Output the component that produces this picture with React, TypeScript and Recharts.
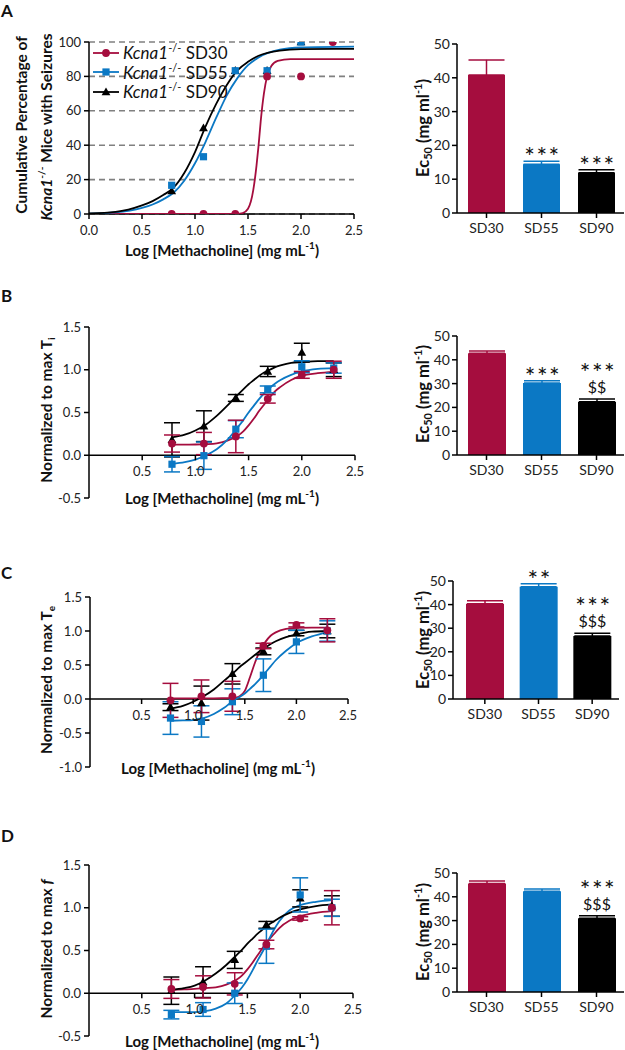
import React from 'react';
import {
  ComposedChart, BarChart, Bar, Line, Scatter, XAxis, YAxis, CartesianGrid,
  ErrorBar, ReferenceLine, Legend, LabelList,
} from 'recharts';

const CRIMSON = '#A50D3E';
const BLUE = '#0B78C4';
const BLACK = '#000000';
const COLORS = [CRIMSON, BLUE, BLACK];
const FONT = 'Lato, "Open Sans", sans-serif';

const groups = ['SD30', 'SD55', 'SD90'];
const doses = [0.78, 1.08, 1.38, 1.68, 2.0, 2.3];

// A - cumulative % of Kcna1-/- mice with seizures
const seizSD30 = [0, 0, 0, 80, 80, 100];
const seizSD55 = [16.7, 33.3, 83.3, 83.3, 100, null];
const seizSD90 = [13.3, 50, 83.3, 83.3, 100, null];
const fitXA = [0, 0.25, 0.5, 0.6, 0.7, 0.8, 0.9, 1.0, 1.1, 1.2, 1.3, 1.4, 1.5, 1.6, 1.8, 2.0, 2.5];
const fitA55 = [0.2, 0.9, 3.5, 5.5, 8.5, 12.5, 19.5, 29.5, 42, 56, 69, 79, 86.5, 91, 95.5, 96.8, 97.3];
const fitA90 = [0.3, 1.2, 5, 7.5, 11, 15.5, 24, 36, 51, 64, 75, 83.5, 88.5, 92, 95, 95.8, 96];
const fitXA30 = [0, 1.4, 1.45, 1.5, 1.55, 1.58, 1.6, 1.62, 1.65, 1.68, 1.72, 1.78, 1.9, 2.5];
const fitA30 = [0, 0.1, 0.5, 3, 14, 28, 40, 54, 70, 80, 86, 89, 90, 90];

// B-D fitted curves share one x grid
const fitX = [0.78, 0.9, 1.0, 1.1, 1.2, 1.3, 1.4, 1.45, 1.5, 1.55, 1.6, 1.65, 1.7, 1.75, 1.8, 1.9, 2.0, 2.15, 2.3];

// B - Ti
const tiSD30 = [0.137, 0.137, 0.22, 0.66, 0.94, 1.0];
const tiErr30 = [0.1, 0.13, 0.19, 0.05, 0.04, 0.1];
const tiSD55 = [-0.105, -0.005, 0.305, 0.77, 1.035, 1.02];
const tiErr55 = [0.09, 0.16, 0.1, 0.04, 0.07, 0.06];
const tiSD90 = [0.18, 0.34, 0.67, 0.98, 1.2, 1.0];
const tiErr90 = [0.2, 0.18, 0.04, 0.06, 0.11, 0.08];
const fitB30 = [0.125, 0.125, 0.126, 0.13, 0.14, 0.17, 0.23, 0.28, 0.35, 0.43, 0.52, 0.6, 0.68, 0.75, 0.8, 0.88, 0.93, 0.96, 0.975];
const fitB55 = [-0.1, -0.08, -0.05, 0.0, 0.07, 0.18, 0.33, 0.41, 0.5, 0.58, 0.66, 0.73, 0.79, 0.84, 0.88, 0.94, 0.98, 1.01, 1.02];
const fitB90 = [0.21, 0.24, 0.29, 0.36, 0.46, 0.58, 0.71, 0.77, 0.83, 0.88, 0.93, 0.97, 1.0, 1.03, 1.05, 1.08, 1.09, 1.1, 1.1];

// C - Te
const teSD30 = [-0.02, 0.04, 0.04, 0.78, 1.09, 1.01];
const teErr30 = [0.25, 0.24, 0.22, 0.04, 0.03, 0.17];
const teSD55 = [-0.28, -0.33, -0.04, 0.35, 0.84, 1.0];
const teErr55 = [0.24, 0.23, 0.19, 0.24, 0.17, 0.15];
const teSD90 = [-0.12, -0.06, 0.37, 0.7, 0.97, 1.0];
const teErr90 = [0.05, 0.25, 0.15, 0.05, 0.04, 0.1];
const fitC30 = [0.01, 0.01, 0.01, 0.01, 0.01, 0.012, 0.015, 0.04, 0.12, 0.32, 0.54, 0.72, 0.84, 0.93, 0.98, 1.03, 1.045, 1.05, 1.05];
const fitC55 = [-0.32, -0.315, -0.31, -0.28, -0.22, -0.13, -0.01, 0.03, 0.08, 0.15, 0.22, 0.3, 0.39, 0.48, 0.57, 0.71, 0.82, 0.92, 0.98];
const fitC90 = [-0.14, -0.1, -0.04, 0.04, 0.14, 0.27, 0.4, 0.47, 0.53, 0.59, 0.65, 0.71, 0.76, 0.81, 0.85, 0.91, 0.95, 0.99, 1.0];

// D - f
const fSD30 = [0.05, 0.074, 0.11, 0.57, 0.875, 1.0];
const fErr30 = [0.11, 0.13, 0.13, 0.05, 0.02, 0.2];
const fSD55 = [-0.25, -0.19, 0.0, 0.55, 1.15, 1.0];
const fErr55 = [0.05, 0.08, 0.12, 0.2, 0.2, 0.1];
const fSD90 = [0.03, 0.13, 0.39, 0.8, 1.11, 1.02];
const fErr90 = [0.16, 0.18, 0.1, 0.04, 0.1, 0.12];
const fitD30 = [0.04, 0.045, 0.05, 0.06, 0.07, 0.1, 0.16, 0.21, 0.28, 0.36, 0.45, 0.54, 0.62, 0.69, 0.76, 0.85, 0.9, 0.94, 0.96];
const fitD55 = [-0.22, -0.22, -0.22, -0.21, -0.18, -0.12, 0.0, 0.07, 0.16, 0.27, 0.39, 0.5, 0.62, 0.74, 0.84, 0.97, 1.03, 1.07, 1.09];
const fitD90 = [0.04, 0.06, 0.09, 0.15, 0.23, 0.33, 0.45, 0.51, 0.58, 0.64, 0.7, 0.75, 0.8, 0.84, 0.88, 0.94, 0.98, 1.02, 1.04];

// EC50 bars (mg/ml), mean and SEM
const ecA = [40.8, 14.4, 11.9];
const ecErrA = [4.5, 0.9, 0.9];
const ecB = [42.7, 30.3, 22.4];
const ecErrB = [1.0, 0.9, 1.1];
const ecC = [40.4, 47.6, 26.7];
const ecErrC = [1.2, 1.2, 1.2];
const ecD = [45.6, 42.3, 31.0];
const ecErrD = [1.0, 1.0, 1.0];
const starsA = ['', '***', '***'];
const dollarsA = ['', '', ''];
const starsB = ['', '***', '***'];
const dollarsB = ['', '', '$$'];
const starsC = ['', '**', '***'];
const dollarsC = ['', '', '$$$'];
const starsD = ['', '', '***'];
const dollarsD = ['', '', '$$$'];

const kinds = ['circle', 'square', 'triangle'];

const toPts = (xs: number[], ys: (number | null)[], es?: number[]) =>
  xs
    .map((x, i) => ({ x, y: ys[i], e: es ? es[i] : undefined }))
    .filter((d) => d.y != null);

const Marker = ({ cx, cy, kind, color }: any) => {
  if (cx == null || cy == null) return null;
  if (kind === 'square')
    return <rect x={cx - 3.6} y={cy - 3.6} width={7.2} height={7.2} fill={color} />;
  if (kind === 'triangle')
    return <polygon points={`${cx},${cy - 4.6} ${cx + 4.4},${cy + 3.2} ${cx - 4.4},${cy + 3.2}`} fill={color} />;
  return <circle cx={cx} cy={cy} r={3.9} fill={color} />;
};

const zeroTick = (zero: number) => (p: any) => (
  <g transform={`translate(${p.x},${zero})`}>
    <line y1={0} y2={5} stroke="#000" strokeWidth={1.5} />
    <text y={21} textAnchor="middle" fontSize={13} fill="#222" fontFamily={FONT}>
      {Number(p.payload.value).toFixed(1)}
    </text>
  </g>
);

const SeizureLegend = () => (
  <div style={{ fontFamily: FONT, fontSize: 17, color: '#111' }}>
    {groups.map((g, i) => (
      <div key={g} style={{ display: 'flex', alignItems: 'center', height: 19.5, fontSize: 17 }}>
        <svg width={27} height={12}>
          <line x1={0} x2={26} y1={6} y2={6} stroke={COLORS[i]} strokeWidth={1.8} />
          <Marker cx={13} cy={6} kind={kinds[i]} color={COLORS[i]} />
        </svg>
        <span style={{ marginLeft: 3, fontSize: 17, whiteSpace: 'nowrap' }}>
          <i>Kcna1</i>
          <span style={{ fontSize: 11, verticalAlign: 7, lineHeight: 0 }}>-/-</span> {g}
        </span>
      </div>
    ))}
  </div>
);

type Box = { left: number; top: number; right: number; bottom: number };

function LinePanel({ box, yDomain, yTicks, xTicks, grid, curves, pts, legend, fmt }: any) {
  const L0 = 50, W = 320, YW = 35, XH = 30, PADT = 12;
  const T0 = box.top - PADT;
  const plotH = box.bottom - box.top;
  const H = plotH + PADT + 40;
  const margin = { top: PADT, left: box.left - L0 - YW, right: L0 + W - box.right, bottom: 40 - XH };
  const zero = PADT + (plotH * yDomain[1]) / (yDomain[1] - yDomain[0]);
  return (
    <div style={{ position: 'absolute', left: L0, top: T0 }}>
      <ComposedChart width={W} height={H} margin={margin}>
        {grid && (
          <CartesianGrid vertical={false} stroke="#808080" strokeDasharray="6 4" strokeWidth={1.6} />
        )}
        <XAxis
          type="number"
          dataKey="x"
          domain={[0, 2.5]}
          ticks={xTicks}
          allowDataOverflow
          axisLine={false}
          tickLine={false}
          height={XH}
          tick={zeroTick(zero)}
        />
        <YAxis
          type="number"
          dataKey="y"
          domain={yDomain}
          ticks={yTicks}
          allowDataOverflow
          width={YW}
          axisLine={{ stroke: '#000', strokeWidth: 1.5 }}
          tickLine={{ stroke: '#000', strokeWidth: 1.5 }}
          tickSize={5}
          tickMargin={3}
          tickFormatter={fmt}
          tick={{ fontSize: 13, fill: '#222', fontFamily: FONT }}
        />
        <ReferenceLine y={0} stroke="#000" strokeWidth={1.5} />
        {curves.map((c: any, i: number) => (
          <Line
            key={'c' + i}
            data={toPts(c.xs, c.ys)}
            dataKey="y"
            type="monotone"
            stroke={c.color}
            strokeWidth={1.8}
            dot={false}
            activeDot={false}
            legendType="none"
            isAnimationActive={false}
          />
        ))}
        {pts.map((s: any, i: number) => (
          <Scatter
            key={'p' + i}
            data={toPts(doses, s.ys, s.errs)}
            shape={(p: any) => <Marker cx={p.cx} cy={p.cy} kind={s.kind} color={s.color} />}
            isAnimationActive={false}
          >
            {s.errs && (
              <ErrorBar dataKey="e" direction="y" width={8} stroke={s.color} strokeWidth={1.5} />
            )}
          </Scatter>
        ))}
        {legend && (
          <Legend
            layout="vertical"
            align="center"
            verticalAlign="middle"
            wrapperStyle={{ left: 43, top: 13, width: 190 }}
            content={() => <SeizureLegend />}
          />
        )}
      </ComposedChart>
    </div>
  );
}

function BarPanel({ box, vals, errs, stars, dollars, barSize, padLeft }: any) {
  const L0 = 360, W = 265, YW = 40, XH = 30, PADT = 50;
  const T0 = box.top - PADT;
  const plotH = box.bottom - box.top;
  const H = plotH + PADT + 40;
  const margin = { top: PADT, left: box.left - L0 - YW, right: L0 + W - box.right, bottom: 40 - XH };
  const ppu = plotH / 50;
  const rows = groups.map((g, i) => {
    const r: any = { name: g };
    r['v' + i] = vals[i];
    r['e' + i] = [0, errs[i]];
    return r;
  });
  const note = (i: number) => (p: any) => {
    if (p.value == null || p.value === '') return null;
    const vb = p.viewBox || {};
    const x = p.x ?? vb.x;
    const y = p.y ?? vb.y;
    const w = p.width ?? vb.width;
    if (x == null || y == null || w == null) return null;
    const cx = x + w / 2;
    const errTop = y - errs[i] * ppu;
    const starC = dollars[i] ? errTop - 31 : errTop - 9;
    return (
      <g key={'n' + i} fontFamily={FONT} fill="#111">
        {dollars[i] && (
          <text x={cx} y={errTop - 12 + 6} textAnchor="middle" fontSize={16}>
            {dollars[i]}
          </text>
        )}
        {stars[i] && (
          <text x={cx + 1} y={starC + 14} textAnchor="middle" fontSize={25} letterSpacing={1.5}>
            {stars[i]}
          </text>
        )}
      </g>
    );
  };
  return (
    <div style={{ position: 'absolute', left: L0, top: T0 }}>
      <BarChart width={W} height={H} data={rows} margin={margin} barCategoryGap={0}>
        <XAxis
          dataKey="name"
          type="category"
          padding={{ left: padLeft, right: 0 }}
          height={XH}
          axisLine={{ stroke: '#000', strokeWidth: 1.5 }}
          tickLine={{ stroke: '#000', strokeWidth: 1.5 }}
          tickSize={5}
          tickMargin={5}
          tick={{ fontSize: 14, fill: '#222', fontFamily: FONT }}
        />
        <YAxis
          type="number"
          domain={[0, 50]}
          ticks={[0, 10, 20, 30, 40, 50]}
          width={YW}
          axisLine={{ stroke: '#000', strokeWidth: 1.5 }}
          tickLine={{ stroke: '#000', strokeWidth: 1.5 }}
          tickSize={5}
          tickMargin={2}
          tick={{ fontSize: 14, fill: '#222', fontFamily: FONT }}
        />
        {groups.map((g, i) => (
          <Bar
            key={g}
            dataKey={'v' + i}
            stackId="s"
            fill={COLORS[i]}
            barSize={barSize}
            isAnimationActive={false}
          >
            <ErrorBar dataKey={'e' + i} direction="y" width={18} stroke={COLORS[i]} strokeWidth={1.5} />
            <LabelList dataKey={'v' + i} content={note(i)} />
          </Bar>
        ))}
      </BarChart>
    </div>
  );
}

const VTitle = ({ cx, cy, children, size = 15.5 }: any) => (
  <div
    style={{
      position: 'absolute', left: cx, top: cy,
      transform: 'translate(-50%, -50%) rotate(-90deg)',
      whiteSpace: 'nowrap', fontWeight: 700, fontSize: size, lineHeight: 1, color: '#111',
    }}
  >
    {children}
  </div>
);

const HTitle = ({ cx, cy, children, size = 15 }: any) => (
  <div
    style={{
      position: 'absolute', left: cx, top: cy, transform: 'translate(-50%, -50%)',
      whiteSpace: 'nowrap', fontWeight: 700, fontSize: size, lineHeight: 1, color: '#111',
    }}
  >
    {children}
  </div>
);

const Letter = ({ y, t }: any) => (
  <div style={{ position: 'absolute', left: 1, top: Math.max(0, y - 10), fontWeight: 700, fontSize: 17 }}>{t}</div>
);

const sup = { fontSize: 10, verticalAlign: 7, lineHeight: 0 } as const;
const sub = { fontSize: 10, verticalAlign: -3, lineHeight: 0 } as const;

const XTitle = ({ cx, cy }: any) => (
  <HTitle cx={cx} cy={cy}>
    Log [Methacholine] (mg mL<span style={sup}>-1</span>)
  </HTitle>
);
const EcTitle = ({ cy }: any) => (
  <VTitle cx={423} cy={cy} size={16.5}>
    Ec<span style={{ ...sub, fontSize: 11 }}>50</span> (mg ml<span style={{ ...sup, fontSize: 11 }}>-1</span>)
  </VTitle>
);

const fmt1 = (v: number) => v.toFixed(1);
const xTicksFull = [0, 0.5, 1, 1.5, 2, 2.5];
const xTicks = [0.5, 1, 1.5, 2, 2.5];

const sets = (d30: any, d55: any, d90: any, e30?: any, e55?: any, e90?: any) => [
  { ys: d90, errs: e90, color: BLACK, kind: 'triangle' },
  { ys: d55, errs: e55, color: BLUE, kind: 'square' },
  { ys: d30, errs: e30, color: CRIMSON, kind: 'circle' },
];

export default function App() {
  const boxA: Box = { left: 89, top: 42, right: 354, bottom: 214 };
  const boxB: Box = { left: 89, top: 327, right: 355, bottom: 498 };
  const boxC: Box = { left: 90, top: 597, right: 348, bottom: 767 };
  const boxD: Box = { left: 89, top: 865, right: 353, bottom: 1036 };
  return (
    <div
      style={{
        position: 'absolute', left: 0, top: 0, width: 625, height: 1050,
        background: '#fff', fontFamily: FONT, color: '#111', overflow: 'hidden',
      }}
    >
      <Letter y={8} t="A" />
      <Letter y={295} t="B" />
      <Letter y={572} t="C" />
      <Letter y={835} t="D" />

      <LinePanel
        box={boxA}
        yDomain={[0, 100]}
        yTicks={[0, 20, 40, 60, 80, 100]}
        xTicks={xTicksFull}
        fmt={(v: number) => String(v)}
        grid
        legend
        curves={[
          { xs: fitXA30, ys: fitA30, color: CRIMSON },
          { xs: fitXA, ys: fitA55, color: BLUE },
          { xs: fitXA, ys: fitA90, color: BLACK },
        ]}
        pts={sets(seizSD30, seizSD55, seizSD90)}
      />
      <LinePanel
        box={boxB}
        yDomain={[-0.5, 1.5]}
        yTicks={[-0.5, 0, 0.5, 1, 1.5]}
        xTicks={xTicks}
        fmt={fmt1}
        curves={[
          { xs: fitX, ys: fitB30, color: CRIMSON },
          { xs: fitX, ys: fitB55, color: BLUE },
          { xs: fitX, ys: fitB90, color: BLACK },
        ]}
        pts={sets(tiSD30, tiSD55, tiSD90, tiErr30, tiErr55, tiErr90)}
      />
      <LinePanel
        box={boxC}
        yDomain={[-1, 1.5]}
        yTicks={[-1, -0.5, 0, 0.5, 1, 1.5]}
        xTicks={xTicks}
        fmt={fmt1}
        curves={[
          { xs: fitX, ys: fitC30, color: CRIMSON },
          { xs: fitX, ys: fitC55, color: BLUE },
          { xs: fitX, ys: fitC90, color: BLACK },
        ]}
        pts={sets(teSD30, teSD55, teSD90, teErr30, teErr55, teErr90)}
      />
      <LinePanel
        box={boxD}
        yDomain={[-0.5, 1.5]}
        yTicks={[-0.5, 0, 0.5, 1, 1.5]}
        xTicks={xTicks}
        fmt={fmt1}
        curves={[
          { xs: fitX, ys: fitD30, color: CRIMSON },
          { xs: fitX, ys: fitD55, color: BLUE },
          { xs: fitX, ys: fitD90, color: BLACK },
        ]}
        pts={sets(fSD30, fSD55, fSD90, fErr30, fErr55, fErr90)}
      />

      <BarPanel box={{ left: 457, top: 44, right: 624, bottom: 213 }} vals={ecA} errs={ecErrA} stars={starsA} dollars={dollarsA} barSize={37} padLeft={2} />
      <BarPanel box={{ left: 457, top: 336, right: 624, bottom: 455 }} vals={ecB} errs={ecErrB} stars={starsB} dollars={dollarsB} barSize={38} padLeft={2} />
      <BarPanel box={{ left: 453, top: 581, right: 619, bottom: 699 }} vals={ecC} errs={ecErrC} stars={starsC} dollars={dollarsC} barSize={38} padLeft={5} />
      <BarPanel box={{ left: 457, top: 873, right: 624, bottom: 992 }} vals={ecD} errs={ecErrD} stars={starsD} dollars={dollarsD} barSize={38} padLeft={2} />

      <VTitle cx={22} cy={125}>Cumulative Percentage of</VTitle>
      <VTitle cx={47} cy={127}>
        <i>Kcna1</i>
        <span style={sup}>-/-</span> Mice with Seizures
      </VTitle>
      <VTitle cx={47} cy={410}>
        Normalized to max T<span style={sub}>i</span>
      </VTitle>
      <VTitle cx={47} cy={680}>
        Normalized to max T<span style={sub}>e</span>
      </VTitle>
      <VTitle cx={47} cy={949}>
        Normalized to max <i>f</i>
      </VTitle>

      <XTitle cx={222} cy={250} />
      <XTitle cx={222} cy={498} />
      <XTitle cx={218} cy={768} />
      <XTitle cx={222} cy={1041} />

      <EcTitle cy={128} />
      <EcTitle cy={394} />
      <EcTitle cy={640} />
      <EcTitle cy={932} />
    </div>
  );
}
